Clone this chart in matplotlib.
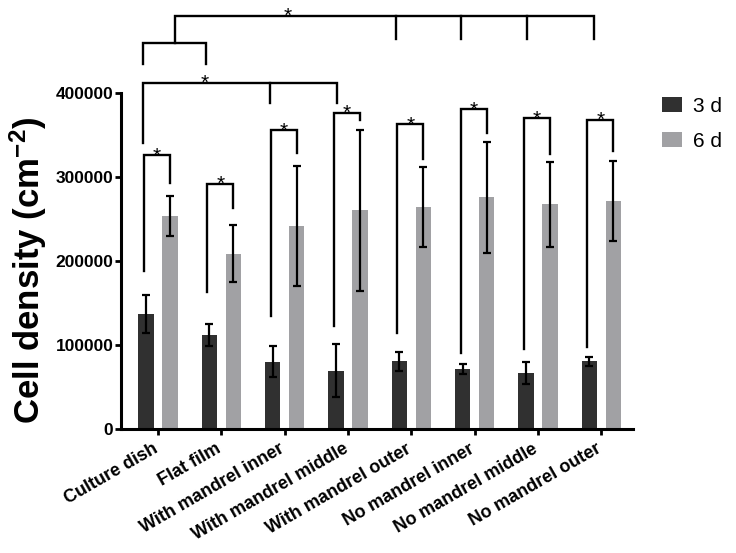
import matplotlib
matplotlib.use("Agg")
import matplotlib.pyplot as plt
from matplotlib.transforms import ScaledTranslation
import numpy as np

plt.rcParams['font.family'] = ['Liberation Sans', 'DejaVu Sans']
plt.rcParams['mathtext.fontset'] = 'custom'
plt.rcParams['mathtext.rm'] = 'Liberation Sans:bold'
plt.rcParams['mathtext.bf'] = 'Liberation Sans:bold'
plt.rcParams['mathtext.it'] = 'Liberation Sans:bold'

categories = ["Culture dish", "Flat film", "With mandrel inner", "With mandrel middle",
              "With mandrel outer", "No mandrel inner", "No mandrel middle", "No mandrel outer"]
series_names = ["3 d", "6 d"]
d3 = [136900, 112600, 80500, 69800, 80900, 71800, 66700, 80900]
d3_err = [22500, 13000, 18600, 31400, 11500, 6300, 13300, 5100]
d6 = [253600, 209100, 242400, 260700, 264600, 276200, 268200, 272100]
d6_err = [24000, 34000, 71600, 96000, 47400, 66100, 50600, 47400]

# within-group significance brackets (3 d vs 6 d)
sig_top = [326200, 292400, 356000, 376500, 363100, 381000, 370200, 368200]
sig_left_bottom = [188800, 163100, 134900, 123000, 115000, 91200, 95200, 98300]
sig_right_bottom = [292900, 263100, 328600, 368200, 321400, 352400, 327700, 331700]

# between-group brackets
bracketA_groups = [0, 2, 3]
bracketA_offsets = [-0.23, -0.23, -0.18]
bracketA_level = 412600
bracketA_bottoms = [340500, 388100, 388100]
bracketA_star_x = 0.74

bracketB_groups = [0, 1]
bracketB_offsets = [-0.23, -0.24]
bracketB_level = 460200
bracketB_bottom = 434500

top_groups = [4, 5, 6, 7]
top_offsets = [-0.245, -0.213, -0.175, -0.123]
top_level = 492400
top_bottom = 464300
top_star_x = 2.05

yticks = [0, 100000, 200000, 300000, 400000]

dark = '#303030'
light = '#a1a1a4'
lw_br = 1.7

fig = plt.figure(figsize=(7.36, 5.53), dpi=100)
ax = fig.add_axes([121/736, 123.7/553, 512/736, 420/553])

x = np.arange(len(categories))
bw = 0.245
off = 0.19
ekw = dict(elinewidth=1.6, capthick=1.6, ecolor='black')
ax.bar(x - off, d3, bw, color=dark, yerr=d3_err, capsize=2.8, error_kw=ekw, label=series_names[0], zorder=2)
ax.bar(x + off, d6, bw, color=light, yerr=d6_err, capsize=2.8, error_kw=ekw, label=series_names[1], zorder=2)

def star(xs, ys):
    ax.annotate('*', xy=(xs, ys), xytext=(0, -4.5), textcoords='offset points',
                ha='center', va='baseline', fontsize=15, clip_on=False, annotation_clip=False)

# within-group brackets
lo, ro = -0.22, 0.19
for i in range(len(categories)):
    xl, xr = i + lo, i + ro
    ax.plot([xl, xl, xr, xr], [sig_left_bottom[i], sig_top[i], sig_top[i], sig_right_bottom[i]],
            color='black', lw=lw_br, clip_on=False, solid_joinstyle='miter')
    star((xl + xr) / 2, sig_top[i])

# bracket A
xa = [g + o for g, o in zip(bracketA_groups, bracketA_offsets)]
ax.plot([xa[0], xa[0], xa[-1], xa[-1]], [bracketA_bottoms[0], bracketA_level, bracketA_level, bracketA_bottoms[-1]],
        color='black', lw=lw_br, clip_on=False, solid_joinstyle='miter')
for xi, b in zip(xa[1:-1], bracketA_bottoms[1:-1]):
    ax.plot([xi, xi], [bracketA_level, b], color='black', lw=lw_br, clip_on=False)
star(bracketA_star_x, bracketA_level)

# bracket B and top bracket
xb = [g + o for g, o in zip(bracketB_groups, bracketB_offsets)]
ax.plot([xb[0], xb[0], xb[1], xb[1]], [bracketB_bottom, bracketB_level, bracketB_level, bracketB_bottom],
        color='black', lw=lw_br, clip_on=False, solid_joinstyle='miter')
xmid = (xb[0] + xb[1]) / 2
xt = [g + o for g, o in zip(top_groups, top_offsets)]
ax.plot([xmid, xmid, xt[-1], xt[-1]], [bracketB_level, top_level, top_level, top_bottom],
        color='black', lw=lw_br, clip_on=False, solid_joinstyle='miter')
for xi in xt[:-1]:
    ax.plot([xi, xi], [top_level, top_bottom], color='black', lw=lw_br, clip_on=False)
star(top_star_x, top_level)

ax.set_xlim(-0.585, 7.5)
ax.set_ylim(0, 500000)
for s in ['top', 'right']:
    ax.spines[s].set_visible(False)
ax.spines['left'].set_bounds(0, 400000)
ax.spines['left'].set_linewidth(2.2)
ax.spines['bottom'].set_linewidth(2.2)

ax.set_yticks(yticks)
ax.set_yticklabels([str(v) for v in yticks], fontsize=12.5, fontweight='bold')
ax.tick_params(axis='y', length=4, width=2, pad=1.5)
ax.set_xticks(x)
ax.set_xticklabels(categories, rotation=30, ha='right', rotation_mode='anchor',
                   fontsize=13, fontweight='bold')
ax.tick_params(axis='x', length=4, width=2, pad=4)
for lab in ax.get_xticklabels():
    lab.set_transform(lab.get_transform() + ScaledTranslation(-4/72, 0, fig.dpi_scale_trans))

ax.set_ylabel('Cell density (cm$^{-2}$)', fontsize=25, fontweight='bold')
ax.yaxis.set_label_coords(-0.141, 0.378)

leg = ax.legend(loc='upper left', bbox_to_anchor=(661.7/736, 1 - 97/553), bbox_transform=fig.transFigure,
                frameon=False, fontsize=15, handlelength=0.96, handleheight=0.72,
                handletextpad=0.55, labelspacing=0.75, borderpad=0, borderaxespad=0)

fig.savefig('out.png', dpi=100)
